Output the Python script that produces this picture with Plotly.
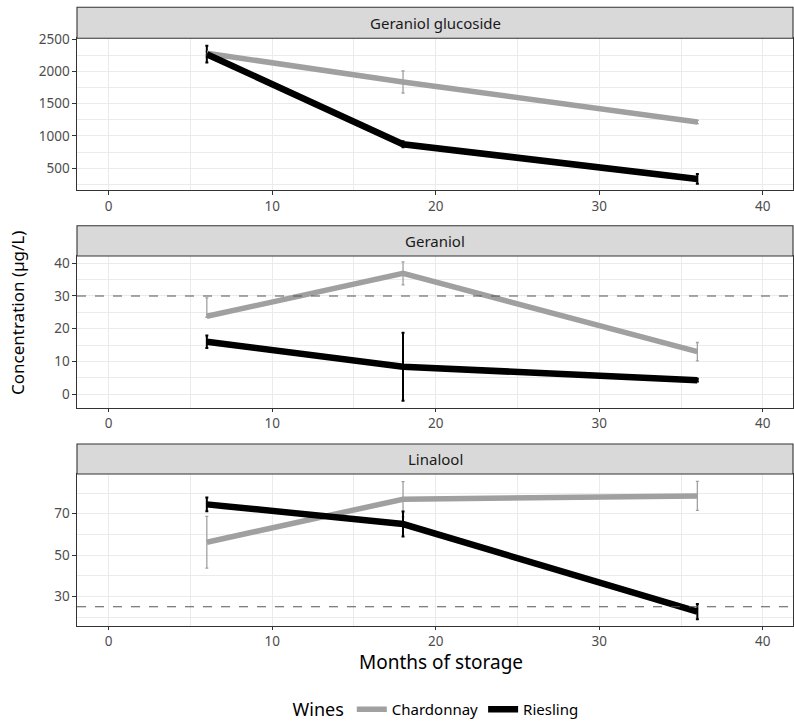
import plotly.graph_objects as go

# ---------------- data ----------------
months = [6, 18, 36]
panel_titles = ["Geraniol glucoside", "Geraniol", "Linalool"]
wines = ["Chardonnay", "Riesling"]

chard_glucoside = [2280, 1835, 1215]
chard_glucoside_err = [25, 170, 25]
ries_glucoside = [2265, 872, 335]
ries_glucoside_err = [130, 45, 75]

chard_geraniol = [23.8, 36.9, 13.0]
chard_geraniol_err_up = [5.6, 3.5, 2.8]
chard_geraniol_err_down = [0.3, 3.5, 2.8]
ries_geraniol = [16.0, 8.4, 4.3]
ries_geraniol_err = [1.9, 10.4, 0.4]

chard_linalool = [56.2, 77.0, 78.6]
chard_linalool_err = [12.5, 8.5, 7.0]
ries_linalool = [74.5, 65.0, 22.6]
ries_linalool_err = [3.3, 6.0, 3.7]

threshold_geraniol = 30
threshold_linalool = 25

x_ticks = [0, 10, 20, 30, 40]

# ---------------- styling ----------------
W, H = 794, 725
MB = 40
PH = H - MB
GRAY = "#A0A0A0"
BLACK = "#000000"
FONT = "Noto Sans"
TICKCOL = "#4D4D4D"

def px_x(p):
    return p / W

def px_y(p):
    return (PH - p) / PH

plot_left, plot_right = 77, 793
panels = [  # (strip_top, plot_top, plot_bottom)
    (7.3, 38.3, 190.0),
    (225.7, 256.0, 407.7),
    (444.0, 474.0, 625.7),
]
y_ranges = [[164, 2511], [-4.1, 42.2], [15.8, 89.2]]
y_ticks = [[500, 1000, 1500, 2000, 2500], [0, 10, 20, 30, 40], [30, 50, 70]]
y_minor = [[250, 750, 1250, 1750, 2250], [-5, 5, 15, 25, 35], [20, 40, 60, 80]]

fig = go.Figure()

series = [
    (chard_glucoside, chard_glucoside_err, chard_glucoside_err, ries_glucoside, ries_glucoside_err),
    (chard_geraniol, chard_geraniol_err_up, chard_geraniol_err_down, ries_geraniol, ries_geraniol_err),
    (chard_linalool, chard_linalool_err, chard_linalool_err, ries_linalool, ries_linalool_err),
]

for i, (cv, ceu, ced, rv, re) in enumerate(series):
    xa = "x" if i == 0 else f"x{i+1}"
    ya = "y" if i == 0 else f"y{i+1}"
    fig.add_trace(go.Scatter(
        x=months, y=cv, mode="markers", marker=dict(size=0.1, color=GRAY, opacity=0),
        error_y=dict(type="data", array=ceu, arrayminus=ced, symmetric=False,
                     color=GRAY, thickness=1.3, width=1.5),
        xaxis=xa, yaxis=ya, showlegend=False, hoverinfo="skip"))
    fig.add_trace(go.Scatter(
        x=months, y=rv, mode="markers", marker=dict(size=0.1, color=BLACK, opacity=0),
        error_y=dict(type="data", array=re, color=BLACK, thickness=2, width=1.5),
        xaxis=xa, yaxis=ya, showlegend=False, hoverinfo="skip"))
    fig.add_trace(go.Scatter(
        x=months, y=cv, mode="lines", line=dict(color=GRAY, width=5.5),
        name=wines[0], legendgroup=wines[0], showlegend=(i == 0),
        xaxis=xa, yaxis=ya))
    fig.add_trace(go.Scatter(
        x=months, y=rv, mode="lines", line=dict(color=BLACK, width=6.5),
        name=wines[1], legendgroup=wines[1], showlegend=(i == 0),
        xaxis=xa, yaxis=ya))

layout = dict(
    width=W, height=H,
    margin=dict(l=0, r=0, t=0, b=MB, autoexpand=False),
    paper_bgcolor="white", plot_bgcolor="white",
    font=dict(family=FONT, color="black"),
    legend=dict(orientation="h", x=px_x(437), xanchor="center",
                y=px_y(710), yanchor="middle",
                title=dict(text="Wines", font=dict(size=18, family=FONT)),
                font=dict(size=15, family=FONT), itemwidth=30,
                bgcolor="rgba(0,0,0,0)"),
)

shapes = []
annotations = []
for i, (st, pt, pb) in enumerate(panels):
    sfx = "" if i == 0 else str(i + 1)
    layout["xaxis" + sfx] = dict(
        domain=[px_x(plot_left), px_x(plot_right)],
        anchor="y" + sfx, range=[-1.94, 41.85],
        tickvals=x_ticks, ticks="outside", ticklen=3.5, tickwidth=1.1, tickcolor="#333333",
        tickfont=dict(size=13.5, color=TICKCOL, family=FONT),
        showgrid=True, gridcolor="#EBEBEB", gridwidth=1.1,
        minor=dict(tickvals=[5, 15, 25, 35], showgrid=True, gridcolor="#EBEBEB", gridwidth=0.6),
        showline=True, linecolor="#333333", linewidth=1.1, mirror=True,
        zeroline=False,
    )
    layout["yaxis" + sfx] = dict(
        domain=[px_y(pb), px_y(pt)],
        anchor="x" + sfx, range=y_ranges[i],
        tickvals=y_ticks[i], ticks="outside", ticklen=3.5, tickwidth=1.1, tickcolor="#333333",
        tickfont=dict(size=13.5, color=TICKCOL, family=FONT),
        showgrid=True, gridcolor="#EBEBEB", gridwidth=1.1,
        minor=dict(tickvals=y_minor[i], showgrid=True, gridcolor="#EBEBEB", gridwidth=0.6),
        showline=True, linecolor="#333333", linewidth=1.1, mirror=True,
        zeroline=False,
    )
    shapes.append(dict(type="rect", xref="paper", yref="paper",
                       x0=px_x(plot_left), x1=px_x(plot_right),
                       y0=px_y(pt), y1=px_y(st),
                       fillcolor="#D9D9D9", line=dict(color="#333333", width=1.1)))
    annotations.append(dict(text=panel_titles[i], xref="paper", yref="paper",
                            x=px_x((plot_left + plot_right) / 2), y=px_y((st + pt) / 2),
                            showarrow=False, xanchor="center", yanchor="middle",
                            font=dict(size=15, color="#1A1A1A", family=FONT)))

for i, thr in [(1, threshold_geraniol), (2, threshold_linalool)]:
    sfx = str(i + 1)
    shapes.append(dict(type="line", xref="x" + sfx + " domain", yref="y" + sfx,
                       x0=0, x1=1, y0=thr, y1=thr,
                       line=dict(color="#555555", width=1.1, dash="dash"), layer="above"))

annotations.append(dict(text="Months of storage", xref="paper", yref="paper",
                        x=px_x(441), y=px_y(662),
                        showarrow=False, xanchor="center", yanchor="middle",
                        font=dict(size=19, color="black", family=FONT)))
annotations.append(dict(text="Concentration (µg/L)", xref="paper", yref="paper",
                        x=px_x(17), y=px_y(313), textangle=-90,
                        showarrow=False, xanchor="center", yanchor="middle",
                        font=dict(size=17, color="black", family=FONT)))

layout["shapes"] = shapes
layout["annotations"] = annotations
fig.update_layout(**layout)

fig.write_html("out.html", config={"displayModeBar": False},
               post_script="document.body.style.margin='0';document.body.style.overflow='hidden';")
